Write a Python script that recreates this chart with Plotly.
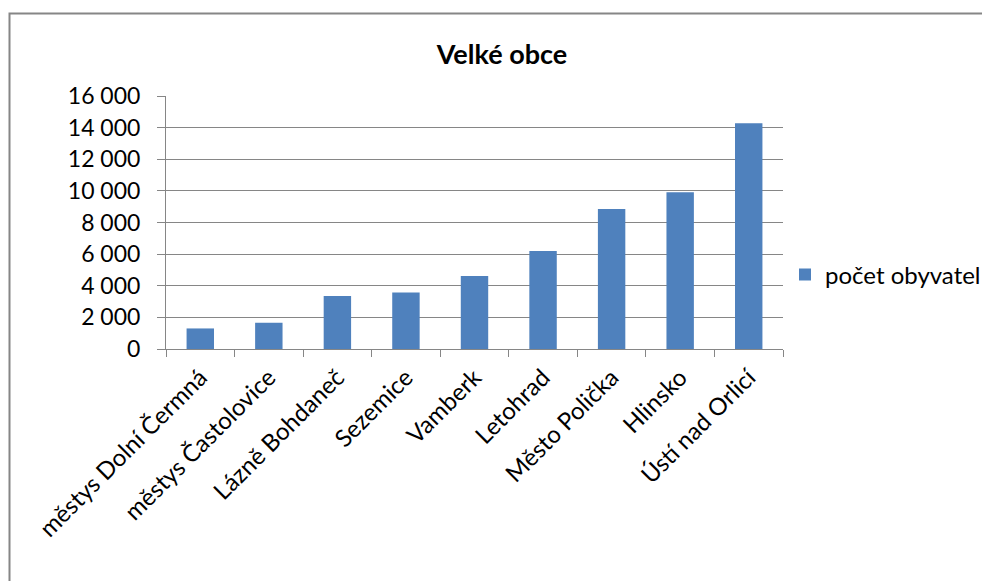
import plotly.graph_objects as go

categories = ["městys Dolní Čermná", "městys Častolovice", "Lázně Bohdaneč", "Sezemice",
              "Vamberk", "Letohrad", "Město Polička", "Hlinsko", "Ústí nad Orlicí"]
pocet_obyvatel = [1300, 1660, 3350, 3580, 4610, 6190, 8860, 9910, 14270]
series_name = "počet obyvatel"
title_text = "Velké obce"

FONT = "Lato, Carlito, Calibri, sans-serif"
GRAY = "#868686"
BLUE = "#4F81BD"

# plot area in pixels
L, R, T, B = 166, 783, 96, 349
W, H = 982, 581
pw, ph = R - L, B - T

def px_x(x):
    return (x - L) / pw

def px_y(y):
    return (B - y) / ph

fig = go.Figure()
fig.add_trace(go.Bar(
    x=categories, y=pocet_obyvatel, name=series_name,
    marker=dict(color=BLUE, line=dict(width=0)),
    showlegend=True,
))

fig.update_layout(
    width=W, height=H,
    margin=dict(l=L, r=W - R, t=T, b=H - B, autoexpand=False),
    paper_bgcolor="white", plot_bgcolor="white",
    font=dict(family=FONT, size=24, color="black"),
    separators=", ",
    bargap=0.6,
    title=dict(text="<b>" + title_text + "</b>", x=px_x(502), xref="paper",
               xanchor="center", y=1 - 55 / H, yref="container", yanchor="middle",
               font=dict(family=FONT, size=27, color="black")),
    showlegend=True,
    legend=dict(x=px_x(785), xanchor="left", y=px_y(275), yanchor="middle",
                font=dict(family=FONT, size=24, color="black"),
                bgcolor="rgba(0,0,0,0)", itemwidth=30),
    xaxis=dict(
        type="category", showgrid=False, showline=True, linecolor=GRAY, linewidth=1,
        ticks="outside", tickson="boundaries", ticklen=7, tickcolor=GRAY, tickwidth=1,
        tickangle=-45, tickfont=dict(family=FONT, size=24, color="black"),
        automargin=False, ticklabelstandoff=4,
    ),
    yaxis=dict(
        range=[0, 16000], dtick=2000, tickformat=",d",
        showgrid=True, gridcolor=GRAY, gridwidth=1,
        showline=True, linecolor=GRAY, linewidth=1,
        ticks="outside", ticklen=8, tickcolor=GRAY, tickwidth=1,
        tickfont=dict(family=FONT, size=23, color="black"),
        zeroline=False, automargin=False, ticklabelstandoff=12,
    ),
    shapes=[dict(type="rect", xref="paper", yref="paper",
                 x0=px_x(9.5), x1=px_x(995), y0=px_y(595), y1=px_y(13.5),
                 line=dict(color=GRAY, width=2), fillcolor="rgba(0,0,0,0)", layer="below")],
)

fig.write_html("out.html", config={"displayModeBar": False},
               post_script="document.body.style.margin='0';")
